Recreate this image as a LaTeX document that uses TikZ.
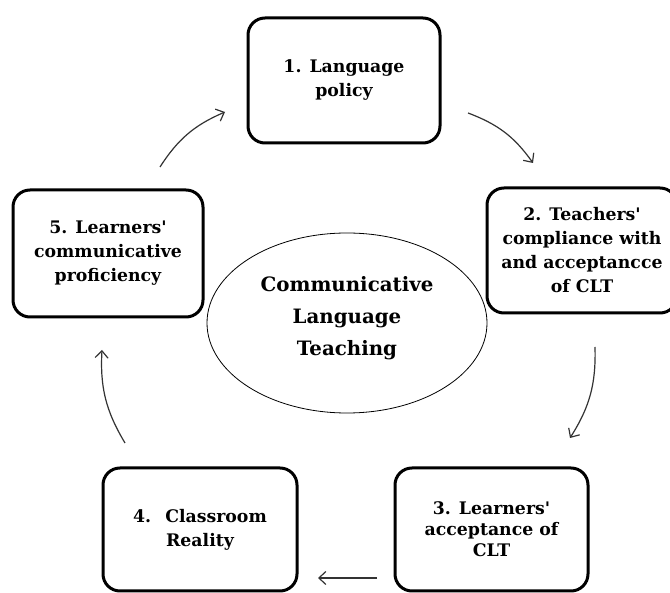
\documentclass[tikz,border=0pt]{standalone}
\usepackage{fontspec}
\setmainfont{DejaVu Serif}[Ligatures=TeXOff]
\usepackage{tikz}
\usetikzlibrary{arrows,arrows.meta,shapes,positioning}

\begin{document}
\begin{tikzpicture}[x=1pt,y=-1pt]
    \tikzset{stage/.style = {shape=rectangle,draw,line width=3pt,rounded corners=17pt,align=center,inner sep=0pt,
        font=\bfseries\fontsize{17.3}{24}\selectfont}}
    \tikzset{cycle/.style = {-{Straight Barb[length=7pt,width=13pt]},line width=1.2pt,draw=black!80,bend left=17}}
    \useasboundingbox (0,0) rectangle (670,593);
    % stages
    \node[stage,minimum width=192pt,minimum height=125pt] (1) at (344,80.5) {1. Language\\ policy};
    \node[stage,minimum width=190pt,minimum height=125pt] (2) at (582,250.5) {2. Teachers'\\ compliance with\\ and acceptancce\\ of CLT};
    \node[stage,minimum width=193pt,minimum height=123pt,font=\bfseries\fontsize{17.3}{21}\selectfont] (3) at (491.5,529.5) {3. Learners'\\ acceptance of\\ CLT};
    \node[stage,minimum width=194pt,minimum height=123pt] (4) at (200,529.5) {4.~ Classroom\\ Reality};
    \node[stage,minimum width=190pt,minimum height=127pt] (5) at (108,253.5) {5. Learners'\\ communicative\\ proficiency};
    % centre
    \node[ellipse,draw,line width=0.8pt,minimum width=280pt,minimum height=180pt,inner sep=0pt] (c) at (347,323) {};
    \node[align=center,font=\bfseries\fontsize{19.8}{32}\selectfont] (ct) at (347,318) {Communicative\\ Language\\ Teaching};
    % arrow ends
    \coordinate (12s) at (468,113);
    \coordinate (12e) at (533,163);
    \coordinate (23s) at (595,347);
    \coordinate (23e) at (570,438);
    \coordinate (34s) at (377,578);
    \coordinate (34e) at (318,578);
    \coordinate (45s) at (125,443);
    \coordinate (45e) at (102,350);
    \coordinate (51s) at (160,167);
    \coordinate (51e) at (225,112);
    \draw[cycle] (12s) to (12e);
    \draw[cycle] (23s) to (23e);
    \draw[cycle,bend left=0] (34s) to (34e);
    \draw[cycle] (45s) to (45e);
    \draw[cycle] (51s) to (51e);
\end{tikzpicture}
\end{document}
